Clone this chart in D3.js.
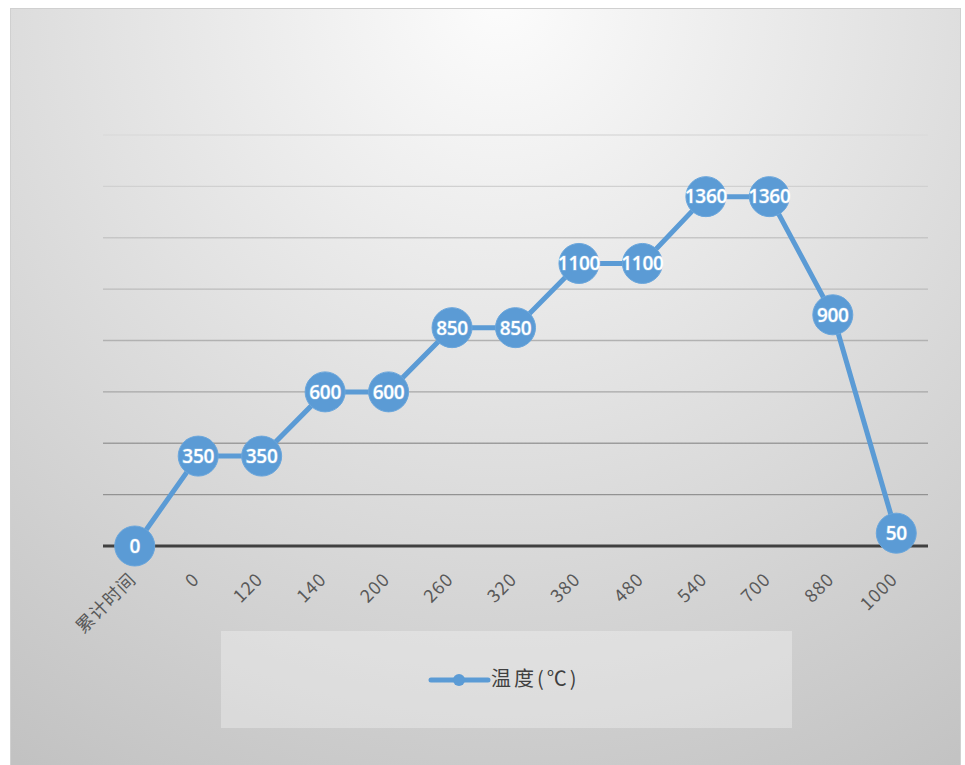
<!DOCTYPE html>
<html><head><meta charset="utf-8">
<script src="https://cdn.jsdelivr.net/npm/d3@7"></script>
<style>html,body{margin:0;padding:0;background:#fff;}svg{display:block;}</style>
</head><body>
<svg id="c" width="965" height="765"></svg>
<script>
const categories = ["累计时间","0","120","140","200","260","320","380","480","540","700","880","1000"];
const temperature = [0,350,350,600,600,850,850,1100,1100,1360,1360,900,50];
const yTicks = [0,200,400,600,800,1000,1200,1400,1600];
const seriesName = "温度(℃)";

const svg = d3.select("#c");
const defs = svg.append("defs");
const bg = defs.append("radialGradient").attr("id","bg")
  .attr("gradientUnits","userSpaceOnUse").attr("cx",500).attr("cy",0).attr("r",900);
bg.append("stop").attr("offset","0%").attr("stop-color","#fcfcfc");
bg.append("stop").attr("offset","100%").attr("stop-color","#c2c2c2");
const gg = defs.append("linearGradient").attr("id","grid")
  .attr("gradientUnits","userSpaceOnUse").attr("x1",0).attr("y1",130).attr("x2",0).attr("y2",546);
gg.append("stop").attr("offset","0%").attr("stop-color","#dcdcdc");
gg.append("stop").attr("offset","100%").attr("stop-color","#888888");

svg.append("rect").attr("x",10.5).attr("y",8.5).attr("width",950).attr("height",760)
  .attr("fill","url(#bg)").attr("stroke","#d0d0d0");

const x = d3.scaleBand().domain(categories).range([103,928]);
const y = d3.scaleLinear().domain([0,1600]).range([546,135]);

// gridlines
svg.append("g").selectAll("line").data(yTicks.filter(d=>d>0)).join("line")
  .attr("x1",103).attr("x2",928).attr("y1",d=>y(d)).attr("y2",d=>y(d))
  .attr("stroke","url(#grid)").attr("stroke-width",1.3);

// x axis baseline
svg.append("line").attr("x1",103).attr("x2",928).attr("y1",y(0)).attr("y2",y(0))
  .attr("stroke","#404040").attr("stroke-width",3);

// tick labels
svg.append("g").selectAll("text").data(categories).join("text")
  .attr("transform",d=>`translate(${x(d)+x.bandwidth()/2-1},${y(0)+31}) rotate(-45)`)
  .attr("text-anchor","end").attr("dominant-baseline","middle")
  .attr("font-family","'Noto Sans CJK SC','Noto Sans',sans-serif").attr("font-size",18)
  .attr("letter-spacing",1)
  .attr("fill","#595959").text(d=>d);

const cx = (d,i)=>x(categories[i])+x.bandwidth()/2;
const line = d3.line().x((d,i)=>cx(d,i)).y(d=>y(d));
svg.append("path").datum(temperature).attr("d",line).attr("fill","none")
  .attr("stroke","#5b9bd5").attr("stroke-width",5).attr("stroke-linejoin","round");

const pts = svg.append("g").selectAll("g").data(temperature).join("g")
  .attr("transform",(d,i)=>`translate(${cx(d,i)},${y(d)})`);
pts.append("circle").attr("r",20).attr("fill","#5b9bd5").attr("stroke","#6aa6dc").attr("stroke-width",1);
pts.append("text").attr("text-anchor","middle").attr("dy","0.36em")
  .attr("font-family","'Open Sans','Noto Sans',sans-serif").attr("font-size",19).attr("font-weight",600)
  .attr("fill","#ffffff").attr("stroke","rgba(220,240,255,0.35)").attr("stroke-width",1.2)
  .attr("paint-order","stroke").attr("letter-spacing",-0.3).text(d=>d);

// legend
svg.append("rect").attr("x",221).attr("y",631).attr("width",571).attr("height",97)
  .attr("fill","#ffffff").attr("fill-opacity",0.3);
svg.append("line").attr("x1",431).attr("x2",488).attr("y1",680).attr("y2",680)
  .attr("stroke","#5b9bd5").attr("stroke-width",5).attr("stroke-linecap","round");
svg.append("circle").attr("cx",459).attr("cy",680).attr("r",6).attr("fill","#5b9bd5");
svg.append("text").attr("x",491).attr("y",681).attr("dominant-baseline","middle")
  .attr("font-family","'Noto Sans CJK SC',sans-serif").attr("font-size",20)
  .attr("letter-spacing",3)
  .attr("fill","#404040").text(seriesName);
</script>
</body></html>
